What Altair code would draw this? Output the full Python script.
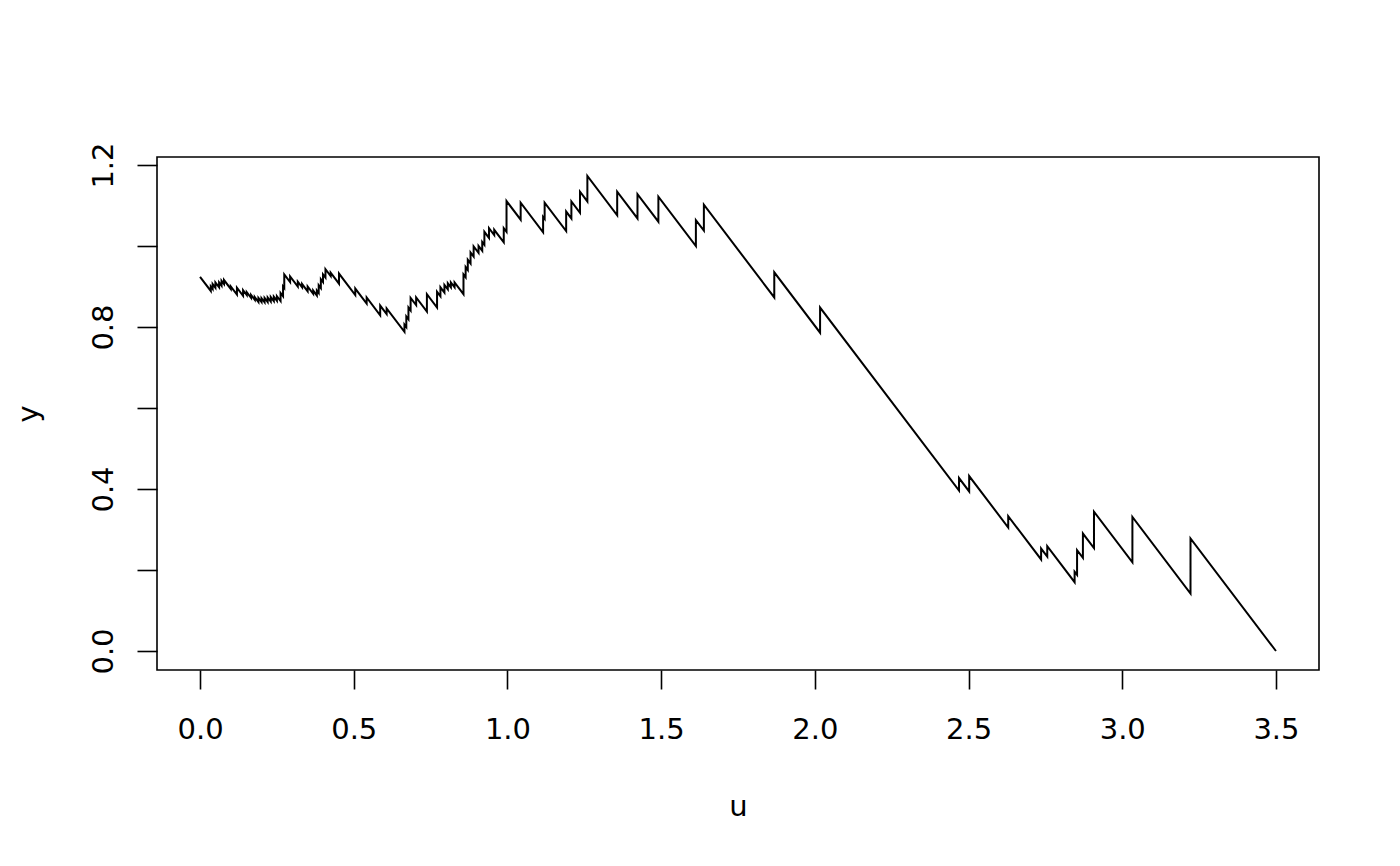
import altair as alt
import pandas as pd

# vertices of the path (u, y); repeated u = vertical jump
U = [0.000, 0.035, 0.035, 0.041, 0.041, 0.050, 0.050, 0.062, 0.062, 0.070,
     0.070, 0.078, 0.078, 0.100, 0.100, 0.120, 0.120, 0.140, 0.140, 0.152,
     0.152, 0.166, 0.166, 0.178, 0.178, 0.190, 0.190, 0.200, 0.200, 0.210,
     0.210, 0.220, 0.220, 0.230, 0.230, 0.240, 0.240, 0.250, 0.250, 0.262,
     0.262, 0.270, 0.270, 0.274, 0.274, 0.293, 0.293, 0.318, 0.318, 0.332,
     0.332, 0.350, 0.350, 0.368, 0.368, 0.380, 0.380, 0.386, 0.386, 0.393,
     0.393, 0.400, 0.400, 0.408, 0.408, 0.425, 0.425, 0.452, 0.452, 0.505,
     0.505, 0.542, 0.542, 0.586, 0.586, 0.607, 0.607, 0.665, 0.665, 0.671,
     0.671, 0.678, 0.678, 0.685, 0.685, 0.703, 0.703, 0.738, 0.738, 0.771,
     0.771, 0.782, 0.782, 0.795, 0.795, 0.806, 0.806, 0.816, 0.816, 0.828,
     0.828, 0.857, 0.857, 0.864, 0.864, 0.871, 0.871, 0.880, 0.880, 0.890,
     0.890, 0.906, 0.906, 0.918, 0.918, 0.925, 0.925, 0.940, 0.940, 0.957,
     0.957, 0.988, 0.988, 0.997, 0.997, 1.043, 1.043, 1.116, 1.116, 1.121,
     1.121, 1.191, 1.191, 1.208, 1.208, 1.236, 1.236, 1.260, 1.260, 1.357,
     1.357, 1.423, 1.423, 1.491, 1.491, 1.613, 1.613, 1.639, 1.639, 1.868,
     1.868, 2.017, 2.017, 2.469, 2.469, 2.502, 2.502, 2.629, 2.629, 2.736,
     2.736, 2.756, 2.756, 2.845, 2.845, 2.853, 2.853, 2.872, 2.872, 2.908,
     2.908, 3.033, 3.033, 3.222, 3.222, 3.500]
Y = [0.924, 0.889, 0.900, 0.894, 0.906, 0.897, 0.910, 0.898, 0.910, 0.902,
     0.914, 0.906, 0.916, 0.894, 0.900, 0.880, 0.897, 0.877, 0.891, 0.879,
     0.886, 0.872, 0.879, 0.867, 0.874, 0.862, 0.872, 0.862, 0.871, 0.861,
     0.872, 0.862, 0.873, 0.863, 0.874, 0.864, 0.875, 0.865, 0.876, 0.864,
     0.884, 0.876, 0.900, 0.896, 0.930, 0.911, 0.925, 0.900, 0.912, 0.898,
     0.906, 0.888, 0.900, 0.882, 0.890, 0.878, 0.890, 0.884, 0.903, 0.896,
     0.918, 0.911, 0.930, 0.922, 0.943, 0.926, 0.934, 0.907, 0.932, 0.879,
     0.895, 0.858, 0.873, 0.829, 0.853, 0.832, 0.846, 0.788, 0.806, 0.800,
     0.826, 0.819, 0.848, 0.841, 0.872, 0.854, 0.873, 0.838, 0.881, 0.848,
     0.887, 0.876, 0.898, 0.885, 0.904, 0.893, 0.908, 0.898, 0.910, 0.898,
     0.910, 0.881, 0.930, 0.923, 0.948, 0.941, 0.966, 0.957, 0.984, 0.974,
     0.999, 0.983, 1.000, 0.988, 1.010, 1.003, 1.035, 1.020, 1.044, 1.027,
     1.040, 1.009, 1.044, 1.035, 1.111, 1.065, 1.107, 1.034, 1.072, 1.067,
     1.107, 1.037, 1.085, 1.068, 1.110, 1.082, 1.134, 1.110, 1.173, 1.076,
     1.134, 1.068, 1.128, 1.060, 1.122, 1.000, 1.064, 1.038, 1.102, 0.873,
     0.935, 0.786, 0.848, 0.396, 0.427, 0.394, 0.432, 0.305, 0.333, 0.226,
     0.253, 0.233, 0.259, 0.170, 0.196, 0.188, 0.249, 0.230, 0.290, 0.254,
     0.344, 0.219, 0.331, 0.142, 0.278, 0.000]

X_TICKS = [0.0, 0.5, 1.0, 1.5, 2.0, 2.5, 3.0, 3.5]
Y_TICKS = [0.0, 0.2, 0.4, 0.6, 0.8, 1.0, 1.2]
Y_LABELS = ["0.0", "0.4", "0.8", "1.2"]

df = pd.DataFrame({"u": U, "y": Y, "i": list(range(len(U)))})

FONT = "DejaVu Sans"
FS = 29

label_expr = ("indexof([" + ",".join("'" + s + "'" for s in Y_LABELS) +
              "], format(datum.value, '.1f')) >= 0 ? format(datum.value, '.1f') : ''")

chart = alt.Chart(df).mark_line(color="black", strokeWidth=2).encode(
    x=alt.X("u:Q",
            scale=alt.Scale(domain=[-0.14, 3.64], nice=False, zero=False),
            axis=alt.Axis(values=X_TICKS, format=".1f", grid=False, domain=False,
                          tickSize=19, tickColor="black", tickWidth=1.6,
                          labelFont=FONT, labelFontSize=FS, labelColor="black",
                          labelBaseline="alphabetic", labelPadding=49,
                          labelFlush=False, labelOverlap=False,
                          title="u", titleFont=FONT, titleFontSize=FS,
                          titleFontWeight="normal", titleColor="black",
                          titleBaseline="alphabetic", titleY=145)),
    y=alt.Y("y:Q",
            scale=alt.Scale(domain=[-0.0469, 1.2198], nice=False, zero=False),
            axis=alt.Axis(values=Y_TICKS, labelExpr=label_expr, grid=False, domain=False,
                          tickSize=20, tickColor="black", tickWidth=1.6,
                          labelFont=FONT, labelFontSize=FS, labelColor="black",
                          labelAngle=270, labelAlign="center",
                          labelBaseline="alphabetic", labelPadding=25,
                          labelFlush=False, labelOverlap=False,
                          title="y", titleFont=FONT, titleFontSize=FS,
                          titleFontWeight="normal", titleColor="black",
                          titleAngle=270, titleAlign="center",
                          titleBaseline="alphabetic", titleX=-120)),
    order=alt.Order("i:Q"),
).properties(
    width=1162, height=513,
    background="white",
    autosize=alt.AutoSizeParams(type="none"),
    padding={"left": 149, "top": 149, "right": 60, "bottom": 190},
).configure_view(
    stroke="black", strokeWidth=1.6, strokeOpacity=1
)

chart.save("out.html", embed_options={"renderer": "svg", "actions": False})
